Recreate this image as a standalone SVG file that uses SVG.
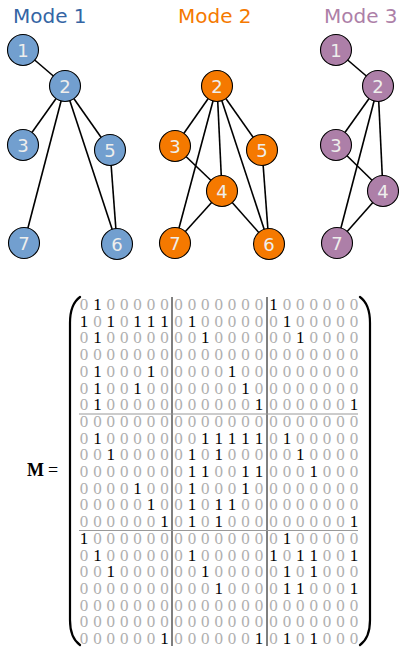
<svg xmlns="http://www.w3.org/2000/svg" width="399" height="649" viewBox="0 0 399 649">
  <style>
    .title { font-family: "DejaVu Sans", sans-serif; font-size: 20px; }
    .edge { stroke: #000; stroke-width: 1.6; fill: none; }
    .node circle { stroke: #000; stroke-width: 1.1; }
    .node text { font-family: "DejaVu Sans", sans-serif; font-size: 18px; fill: #eeeeec; text-anchor: middle; }
    .m1 circle { fill: #729fcf; }
    .m2 circle { fill: #f57900; }
    .m3 circle { fill: #ad7fa8; }
    .mat { font-family: "Liberation Serif", "DejaVu Serif", serif; font-size: 17px; fill: #b0b0b0; text-anchor: middle; }
    .mat .k { fill: #000; }
    .rule { stroke: #000; stroke-width: 1; }
    .hrule { stroke: #999; stroke-width: 1; }
    .paren { stroke: #000; stroke-width: 2.2; fill: none; stroke-linecap: round; }
  </style>

  <!-- titles -->
  <text class="title" x="13" y="23" fill="#3465a4">Mode 1</text>
  <text class="title" x="178" y="23" fill="#f57900">Mode 2</text>
  <text class="title" x="324" y="23" fill="#ad7fa8">Mode 3</text>

  <!-- connectors -->
  <g id="edges">
    <!-- mode 1 -->
    <line class="edge" x1="23" y1="50" x2="65" y2="86"/>
    <line class="edge" x1="65" y1="86" x2="23" y2="145"/>
    <line class="edge" x1="65" y1="86" x2="24" y2="243"/>
    <line class="edge" x1="65" y1="86" x2="110" y2="150"/>
    <line class="edge" x1="65" y1="86" x2="117" y2="244"/>
    <line class="edge" x1="110" y1="150" x2="117" y2="244"/>
    <!-- mode 2 -->
    <line class="edge" x1="217" y1="86" x2="175" y2="146"/>
    <line class="edge" x1="217" y1="86" x2="222" y2="191"/>
    <line class="edge" x1="217" y1="86" x2="262" y2="150"/>
    <line class="edge" x1="217" y1="86" x2="269" y2="244"/>
    <line class="edge" x1="217" y1="86" x2="175" y2="243"/>
    <line class="edge" x1="175" y1="146" x2="222" y2="191"/>
    <line class="edge" x1="222" y1="191" x2="269" y2="244"/>
    <line class="edge" x1="222" y1="191" x2="175" y2="243"/>
    <line class="edge" x1="262" y1="150" x2="269" y2="244"/>
    <!-- mode 3 -->
    <line class="edge" x1="336" y1="50" x2="378" y2="86"/>
    <line class="edge" x1="378" y1="86" x2="336" y2="145"/>
    <line class="edge" x1="378" y1="86" x2="383" y2="191"/>
    <line class="edge" x1="378" y1="86" x2="337" y2="243"/>
    <line class="edge" x1="336" y1="145" x2="383" y2="191"/>
    <line class="edge" x1="383" y1="191" x2="337" y2="243"/>
  </g>

  <!-- mode 1 nodes -->
  <g id="m1-n1" class="node m1"><circle cx="23" cy="50" r="15.5"/><text x="23" y="56.5">1</text></g>
  <g id="m1-n2" class="node m1"><circle cx="65" cy="86" r="15.5"/><text x="65" y="92.5">2</text></g>
  <g id="m1-n3" class="node m1"><circle cx="23" cy="145" r="15.5"/><text x="23" y="151.5">3</text></g>
  <g id="m1-n5" class="node m1"><circle cx="110" cy="150" r="15.5"/><text x="110" y="156.5">5</text></g>
  <g id="m1-n7" class="node m1"><circle cx="24" cy="243" r="15.5"/><text x="24" y="249.5">7</text></g>
  <g id="m1-n6" class="node m1"><circle cx="117" cy="244" r="15.5"/><text x="117" y="250.5">6</text></g>

  <!-- mode 2 nodes -->
  <g id="m2-n2" class="node m2"><circle cx="217" cy="86" r="15.5"/><text x="217" y="92.5">2</text></g>
  <g id="m2-n3" class="node m2"><circle cx="175" cy="146" r="15.5"/><text x="175" y="152.5">3</text></g>
  <g id="m2-n5" class="node m2"><circle cx="262" cy="150" r="15.5"/><text x="262" y="156.5">5</text></g>
  <g id="m2-n4" class="node m2"><circle cx="222" cy="191" r="15.5"/><text x="222" y="197.5">4</text></g>
  <g id="m2-n7" class="node m2"><circle cx="175" cy="243" r="15.5"/><text x="175" y="249.5">7</text></g>
  <g id="m2-n6" class="node m2"><circle cx="269" cy="244" r="15.5"/><text x="269" y="250.5">6</text></g>

  <!-- mode 3 nodes -->
  <g id="m3-n1" class="node m3"><circle cx="336" cy="50" r="15.5"/><text x="336" y="56.5">1</text></g>
  <g id="m3-n2" class="node m3"><circle cx="378" cy="86" r="15.5"/><text x="378" y="92.5">2</text></g>
  <g id="m3-n3" class="node m3"><circle cx="336" cy="145" r="15.5"/><text x="336" y="151.5">3</text></g>
  <g id="m3-n4" class="node m3"><circle cx="383" cy="191" r="15.5"/><text x="383" y="197.5">4</text></g>
  <g id="m3-n7" class="node m3"><circle cx="337" cy="243" r="15.5"/><text x="337" y="249.5">7</text></g>

  <!-- supra-adjacency matrix -->
  <text x="27" y="476" font-family="Liberation Serif, DejaVu Serif, serif" font-size="18" font-weight="bold">M</text>
  <text x="48" y="476" font-family="Liberation Serif, DejaVu Serif, serif" font-size="18">=</text>

  <path class="paren" d="M80,297 C73,302 70,311 70,323 L70,620 C70,632 73,640 80,645"/>
  <path class="paren" d="M360,297 C367,302 370,311 370,323 L370,620 C370,632 367,640 360,645"/>

  <line class="rule" x1="172" y1="297" x2="172" y2="646"/>
  <line class="rule" x1="267" y1="297" x2="267" y2="646"/>
  <line class="hrule" x1="79" y1="414" x2="358" y2="414"/>
  <line class="hrule" x1="79" y1="530.5" x2="358" y2="530.5"/>

  <g class="mat">
    <text y="310" x="84 97.4 110.8 124.2 137.6 151 164.4 178.5 191.9 205.3 218.7 232.1 245.5 258.9 273.5 286.9 300.3 313.7 327.1 340.5 353.9">0<tspan class="k">1</tspan>000000000000<tspan class="k">1</tspan>000000</text>
    <text y="326.7" x="84 97.4 110.8 124.2 137.6 151 164.4 178.5 191.9 205.3 218.7 232.1 245.5 258.9 273.5 286.9 300.3 313.7 327.1 340.5 353.9"><tspan class="k">1</tspan>0<tspan class="k">1</tspan>0<tspan class="k">111</tspan>0<tspan class="k">1</tspan>000000<tspan class="k">1</tspan>00000</text>
    <text y="343.4" x="84 97.4 110.8 124.2 137.6 151 164.4 178.5 191.9 205.3 218.7 232.1 245.5 258.9 273.5 286.9 300.3 313.7 327.1 340.5 353.9">0<tspan class="k">1</tspan>0000000<tspan class="k">1</tspan>000000<tspan class="k">1</tspan>0000</text>
    <text y="360.1" x="84 97.4 110.8 124.2 137.6 151 164.4 178.5 191.9 205.3 218.7 232.1 245.5 258.9 273.5 286.9 300.3 313.7 327.1 340.5 353.9">000000000000000000000</text>
    <text y="376.8" x="84 97.4 110.8 124.2 137.6 151 164.4 178.5 191.9 205.3 218.7 232.1 245.5 258.9 273.5 286.9 300.3 313.7 327.1 340.5 353.9">0<tspan class="k">1</tspan>000<tspan class="k">1</tspan>00000<tspan class="k">1</tspan>000000000</text>
    <text y="393.5" x="84 97.4 110.8 124.2 137.6 151 164.4 178.5 191.9 205.3 218.7 232.1 245.5 258.9 273.5 286.9 300.3 313.7 327.1 340.5 353.9">0<tspan class="k">1</tspan>00<tspan class="k">1</tspan>0000000<tspan class="k">1</tspan>00000000</text>
    <text y="410.2" x="84 97.4 110.8 124.2 137.6 151 164.4 178.5 191.9 205.3 218.7 232.1 245.5 258.9 273.5 286.9 300.3 313.7 327.1 340.5 353.9">0<tspan class="k">1</tspan>00000000000<tspan class="k">1</tspan>000000<tspan class="k">1</tspan></text>

    <text y="426.9" x="84 97.4 110.8 124.2 137.6 151 164.4 178.5 191.9 205.3 218.7 232.1 245.5 258.9 273.5 286.9 300.3 313.7 327.1 340.5 353.9">000000000000000000000</text>
    <text y="443.6" x="84 97.4 110.8 124.2 137.6 151 164.4 178.5 191.9 205.3 218.7 232.1 245.5 258.9 273.5 286.9 300.3 313.7 327.1 340.5 353.9">0<tspan class="k">1</tspan>0000000<tspan class="k">11111</tspan>0<tspan class="k">1</tspan>00000</text>
    <text y="460.3" x="84 97.4 110.8 124.2 137.6 151 164.4 178.5 191.9 205.3 218.7 232.1 245.5 258.9 273.5 286.9 300.3 313.7 327.1 340.5 353.9">00<tspan class="k">1</tspan>00000<tspan class="k">1</tspan>0<tspan class="k">1</tspan>00000<tspan class="k">1</tspan>0000</text>
    <text y="477" x="84 97.4 110.8 124.2 137.6 151 164.4 178.5 191.9 205.3 218.7 232.1 245.5 258.9 273.5 286.9 300.3 313.7 327.1 340.5 353.9">00000000<tspan class="k">11</tspan>00<tspan class="k">11</tspan>000<tspan class="k">1</tspan>000</text>
    <text y="493.7" x="84 97.4 110.8 124.2 137.6 151 164.4 178.5 191.9 205.3 218.7 232.1 245.5 258.9 273.5 286.9 300.3 313.7 327.1 340.5 353.9">0000<tspan class="k">1</tspan>000<tspan class="k">1</tspan>000<tspan class="k">1</tspan>00000000</text>
    <text y="510.4" x="84 97.4 110.8 124.2 137.6 151 164.4 178.5 191.9 205.3 218.7 232.1 245.5 258.9 273.5 286.9 300.3 313.7 327.1 340.5 353.9">00000<tspan class="k">1</tspan>00<tspan class="k">1</tspan>0<tspan class="k">11</tspan>000000000</text>
    <text y="527.1" x="84 97.4 110.8 124.2 137.6 151 164.4 178.5 191.9 205.3 218.7 232.1 245.5 258.9 273.5 286.9 300.3 313.7 327.1 340.5 353.9">000000<tspan class="k">1</tspan>0<tspan class="k">1</tspan>0<tspan class="k">1</tspan>000000000<tspan class="k">1</tspan></text>

    <text y="543.8" x="84 97.4 110.8 124.2 137.6 151 164.4 178.5 191.9 205.3 218.7 232.1 245.5 258.9 273.5 286.9 300.3 313.7 327.1 340.5 353.9"><tspan class="k">1</tspan>00000000000000<tspan class="k">1</tspan>00000</text>
    <text y="560.5" x="84 97.4 110.8 124.2 137.6 151 164.4 178.5 191.9 205.3 218.7 232.1 245.5 258.9 273.5 286.9 300.3 313.7 327.1 340.5 353.9">0<tspan class="k">1</tspan>000000<tspan class="k">1</tspan>00000<tspan class="k">1</tspan>0<tspan class="k">11</tspan>00<tspan class="k">1</tspan></text>
    <text y="577.2" x="84 97.4 110.8 124.2 137.6 151 164.4 178.5 191.9 205.3 218.7 232.1 245.5 258.9 273.5 286.9 300.3 313.7 327.1 340.5 353.9">00<tspan class="k">1</tspan>000000<tspan class="k">1</tspan>00000<tspan class="k">1</tspan>0<tspan class="k">1</tspan>000</text>
    <text y="593.9" x="84 97.4 110.8 124.2 137.6 151 164.4 178.5 191.9 205.3 218.7 232.1 245.5 258.9 273.5 286.9 300.3 313.7 327.1 340.5 353.9">0000000000<tspan class="k">1</tspan>0000<tspan class="k">11</tspan>000<tspan class="k">1</tspan></text>
    <text y="610.6" x="84 97.4 110.8 124.2 137.6 151 164.4 178.5 191.9 205.3 218.7 232.1 245.5 258.9 273.5 286.9 300.3 313.7 327.1 340.5 353.9">000000000000000000000</text>
    <text y="627.3" x="84 97.4 110.8 124.2 137.6 151 164.4 178.5 191.9 205.3 218.7 232.1 245.5 258.9 273.5 286.9 300.3 313.7 327.1 340.5 353.9">000000000000000000000</text>
    <text y="644" x="84 97.4 110.8 124.2 137.6 151 164.4 178.5 191.9 205.3 218.7 232.1 245.5 258.9 273.5 286.9 300.3 313.7 327.1 340.5 353.9">000000<tspan class="k">1</tspan>000000<tspan class="k">1</tspan>0<tspan class="k">1</tspan>0<tspan class="k">1</tspan>000</text>
  </g>
</svg>
